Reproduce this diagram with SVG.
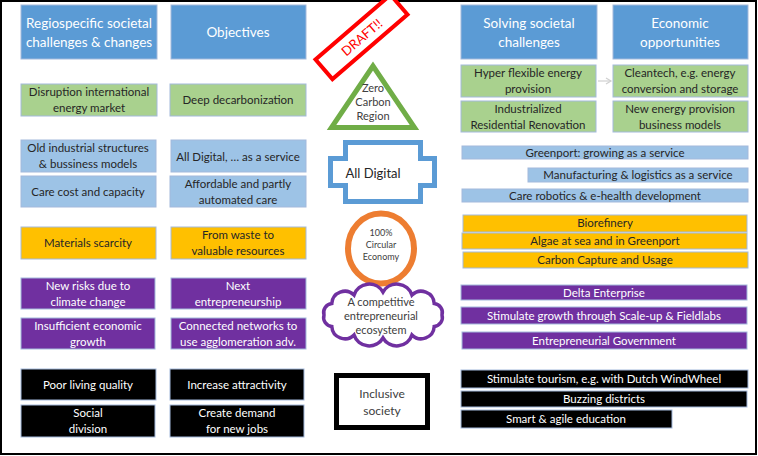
<svg xmlns="http://www.w3.org/2000/svg" width="758" height="456" viewBox="0 0 758 456">
<defs>
<style>
.b{stroke:#a3b9dc;stroke-width:1}
.hd{fill:#5b9bd5}
.gr{fill:#a9d18e}
.lb{fill:#9dc3e6}
.ye{fill:#ffc000}
.pu{fill:#7030a0}
.bk{fill:#000000}
text{font-family:Lato,"Liberation Sans",sans-serif;text-anchor:middle}
.th{font-size:13.5px;fill:#ffffff}
.t{font-size:11.5px;fill:#262626}
.tw{font-size:11.5px;fill:#ffffff}
.s{font-size:11px;fill:#404040}
</style>
<marker id="ah" markerWidth="8" markerHeight="8" refX="6" refY="4" orient="auto" markerUnits="userSpaceOnUse">
<path d="M1,1 L6,4 L1,7" fill="none" stroke="#d0d0d0" stroke-width="1.2"/>
</marker>
</defs>
<rect x="0" y="0" width="758" height="456" fill="#ffffff"/>
<rect x="1" y="1" width="755" height="453" fill="none" stroke="#000000" stroke-width="2"/>

<g id="connectors">
<line x1="598" y1="81" x2="611" y2="81" stroke="#d0d0d0" stroke-width="1.2" marker-end="url(#ah)"/>
</g>

<!-- Column 1 -->
<g id="h-regio"><rect class="b hd" x="21" y="5" width="136" height="54"/><text class="th" x="89" y="28">Regiospecific societal</text><text class="th" x="89" y="47">challenges &amp; changes</text></g>
<g id="disruption"><rect class="b gr" x="21" y="84" width="136" height="32"/><text class="t" x="89" y="96">Disruption international</text><text class="t" x="89" y="112">energy market</text></g>
<g id="old-industrial"><rect class="b lb" x="21" y="140" width="135" height="32"/><text class="t" x="88" y="152">Old industrial structures</text><text class="t" x="88" y="168">&amp; bussiness models</text></g>
<g id="care-cost"><rect class="b lb" x="21" y="176" width="135" height="31"/><text class="t" x="88" y="196">Care cost and capacity</text></g>
<g id="materials"><rect class="b ye" x="21" y="227" width="135" height="32"/><text class="t" x="88" y="247">Materials scarcity</text></g>
<g id="new-risks"><rect class="b pu" x="21" y="278" width="134" height="31"/><text class="tw" x="88" y="290">New risks due to</text><text class="tw" x="88" y="306">climate change</text></g>
<g id="insufficient"><rect class="b pu" x="21" y="318" width="134" height="31"/><text class="tw" x="88" y="330">Insufficient economic</text><text class="tw" x="88" y="346">growth</text></g>
<g id="poor-living"><rect class="b bk" x="21" y="369" width="135" height="31"/><text class="tw" x="88" y="389">Poor living quality</text></g>
<g id="social"><rect class="b bk" x="21" y="405" width="134" height="32"/><text class="tw" x="88" y="417">Social</text><text class="tw" x="88" y="433">division</text></g>

<!-- Column 2 -->
<g id="h-objectives"><rect class="b hd" x="171" y="5" width="135" height="54"/><text class="th" x="238" y="37">Objectives</text></g>
<g id="deep-decarb"><rect class="b gr" x="170" y="84" width="136" height="32"/><text class="t" x="238" y="104">Deep decarbonization</text></g>
<g id="all-digital-service"><rect class="b lb" x="171" y="140" width="135" height="32"/><text class="t" x="238" y="161">All Digital, … as a service</text></g>
<g id="affordable"><rect class="b lb" x="170" y="176" width="136" height="31"/><text class="t" x="238" y="188">Affordable and partly</text><text class="t" x="238" y="204">automated care</text></g>
<g id="from-waste"><rect class="b ye" x="171" y="227" width="135" height="32"/><text class="t" x="238" y="239">From waste to</text><text class="t" x="238" y="255">valuable resources</text></g>
<g id="next-entre"><rect class="b pu" x="171" y="278" width="135" height="31"/><text class="tw" x="238" y="290">Next</text><text class="tw" x="238" y="306">entrepreneurship</text></g>
<g id="connected"><rect class="b pu" x="171" y="318" width="135" height="31"/><text class="tw" x="238" y="330">Connected networks to</text><text class="tw" x="238" y="346">use agglomeration adv.</text></g>
<g id="increase"><rect class="b bk" x="170" y="369" width="134" height="31"/><text class="tw" x="237" y="389">Increase attractivity</text></g>
<g id="create-demand"><rect class="b bk" x="170" y="405" width="134" height="32"/><text class="tw" x="237" y="417">Create demand</text><text class="tw" x="237" y="433">for new jobs</text></g>

<!-- Middle -->
<g id="draft" transform="translate(361.5,37) rotate(-40.7)"><rect x="-49.5" y="-13" width="99" height="26" fill="#ffffff" stroke="#ff0000" stroke-width="4"/><text x="0" y="5" style="font-size:13px;fill:#ff0000">DRAFT!!</text></g>
<g id="zero-carbon"><polygon points="373,66 331.5,127.5 414.5,127.5" fill="#ffffff" stroke="#70ad47" stroke-width="5"/><text class="s" x="373" y="92">Zero</text><text class="s" x="373" y="106">Carbon</text><text class="s" x="373" y="120">Region</text></g>
<g id="all-digital"><path d="M345.5,142.5 H420.5 V158.5 H434.5 V185.5 H420.5 V201.5 H345.5 V185.5 H330.5 V158.5 H345.5 Z" fill="#ffffff" stroke="#5b9bd5" stroke-width="5"/><text x="373" y="178" style="font-size:13px;fill:#262626">All Digital</text></g>
<g id="circular"><ellipse cx="381" cy="248.5" rx="33" ry="35" fill="#ffffff" stroke="#ed7d31" stroke-width="6"/><text x="381" y="236" style="font-size:9px;fill:#404040">100%</text><text x="381" y="248" style="font-size:9px;fill:#404040">Circular</text><text x="381" y="260" style="font-size:9px;fill:#404040">Economy</text></g>
<g id="ecosystem"><path d="M324,315 A9,9 0 0 1 331.8,303.5 A13,13 0 0 1 354,295.1 A16,16 0 0 1 383,292 A16,16 0 0 1 412,295.1 A13,13 0 0 1 434.2,303.5 A9,9 0 0 1 442,315 A9,9 0 0 1 434.2,326.5 A13,13 0 0 1 412,334.9 A16,16 0 0 1 383,338 A16,16 0 0 1 354,334.9 A13,13 0 0 1 331.8,326.5 A9,9 0 0 1 324,315 Z" fill="#ffffff" stroke="#7030a0" stroke-width="3.5"/><text class="s" x="381" y="306">A competitive</text><text class="s" x="381" y="320">entrepreneurial</text><text class="s" x="381" y="334">ecosystem</text></g>
<g id="inclusive"><rect x="336.5" y="375.5" width="91" height="52" fill="#ffffff" stroke="#000000" stroke-width="5"/><text x="382" y="398" style="font-size:12px;fill:#404040">Inclusive</text><text x="382" y="415" style="font-size:12px;fill:#404040">society</text></g>

<!-- Column 3/4 -->
<g id="h-solving"><rect class="b hd" x="461" y="5" width="136" height="54"/><text class="th" x="529" y="28">Solving societal</text><text class="th" x="529" y="47">challenges</text></g>
<g id="h-economic"><rect class="b hd" x="613" y="5" width="135" height="54"/><text class="th" x="680" y="28">Economic</text><text class="th" x="680" y="47">opportunities</text></g>
<g id="hyper"><rect class="b gr" x="461" y="65" width="135" height="32"/><text class="t" x="528" y="77">Hyper flexible energy</text><text class="t" x="528" y="93">provision</text></g>
<g id="cleantech"><rect class="b gr" x="613" y="65" width="135" height="32"/><text class="t" x="680" y="77">Cleantech, e.g. energy</text><text class="t" x="680" y="93">conversion and storage</text></g>
<g id="industrialized"><rect class="b gr" x="461" y="101" width="135" height="31"/><text class="t" x="528" y="113">Industrialized</text><text class="t" x="528" y="129">Residential Renovation</text></g>
<g id="new-energy"><rect class="b gr" x="613" y="101" width="135" height="31"/><text class="t" x="680" y="113">New energy provision</text><text class="t" x="680" y="129">business models</text></g>
<g id="greenport"><rect class="b lb" x="462" y="146" width="286" height="13"/><text class="t" x="605" y="157">Greenport: growing as a service</text></g>
<g id="manufacturing"><rect class="b lb" x="528" y="168" width="220" height="14"/><text class="t" x="638" y="179">Manufacturing &amp; logistics as a service</text></g>
<g id="care-robotics"><rect class="b lb" x="462" y="189" width="286" height="13"/><text class="t" x="605" y="200">Care robotics &amp; e-health development</text></g>
<g id="biorefinery"><rect class="b ye" x="463" y="215" width="284" height="17"/><text class="t" x="605" y="227">Biorefinery</text></g>
<g id="algae"><rect class="b ye" x="462" y="233" width="285" height="16"/><text class="t" x="605" y="245">Algae at sea and in Greenport</text></g>
<g id="carbon-capture"><rect class="b ye" x="463" y="252" width="285" height="16"/><text class="t" x="605" y="264">Carbon Capture and Usage</text></g>
<g id="delta"><rect class="b pu" x="461" y="285" width="286" height="15"/><text class="tw" x="604" y="297">Delta Enterprise</text></g>
<g id="stimulate-growth"><rect class="b pu" x="461" y="307" width="286" height="17"/><text class="tw" x="604" y="320">Stimulate growth through Scale-up &amp; Fieldlabs</text></g>
<g id="entre-gov"><rect class="b pu" x="462" y="332" width="285" height="17"/><text class="tw" x="604" y="345">Entrepreneurial Government</text></g>
<g id="tourism"><rect class="b bk" x="461" y="370" width="287" height="18"/><text class="tw" x="604" y="383">Stimulate tourism, e.g. with Dutch WindWheel</text></g>
<g id="buzzing"><rect class="b bk" x="461" y="391" width="286" height="16"/><text class="tw" x="604" y="403">Buzzing districts</text></g>
<g id="smart"><rect class="b bk" x="461" y="410" width="211" height="18"/><text class="tw" x="566" y="423">Smart &amp; agile education</text></g>
</svg>
